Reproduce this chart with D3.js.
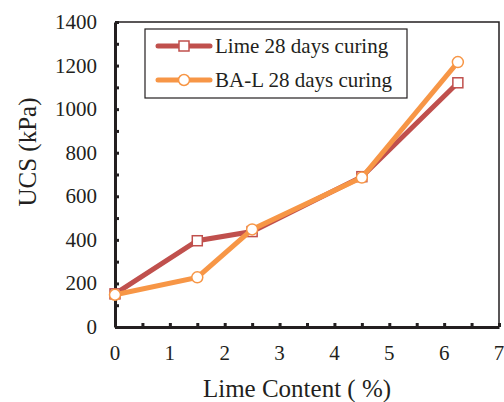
<!DOCTYPE html>
<html>
<head>
<meta charset="utf-8">
<script src="https://cdn.jsdelivr.net/npm/d3@7"></script>
<style>
  body { margin: 0; background: #fff; }
  text { font-family: "Liberation Serif", "Times New Roman", serif; fill: #231f20; }
</style>
</head>
<body>
<svg id="chart" width="504" height="402"></svg>
<script>
// data
var limeContent = [0, 1.5, 2.5, 4.5, 6.25];
var limeUCS = [152, 396, 438, 690, 1121];
var balUCS = [148, 228, 448, 686, 1216];
var seriesNames = ["Lime 28 days curing", "BA-L 28 days curing"];
var xTicks = [0, 1, 2, 3, 4, 5, 6, 7];
var yTicks = [0, 200, 400, 600, 800, 1000, 1200, 1400];

var svg = d3.select("#chart");
var padL = 115, padR = 499, padT = 22, padB = 327;

var x = d3.scaleLinear().domain([0, 7]).range([padL, padR]);
var y = d3.scaleLinear().domain([0, 1400]).range([padB, padT]);

// top & right frame
svg.append("path")
   .attr("d", `M${padL},${padT}H${padR}V${padB}`)
   .attr("fill", "none").attr("stroke", "#231f20").attr("stroke-width", 1.5);

// x axis, ticks every 0.5 pointing inward
var xAxis = d3.axisBottom(x).tickValues(d3.range(0, 7.01, 0.5)).tickSize(-4).tickSizeOuter(0).tickFormat("");
var gx = svg.append("g").attr("transform", `translate(0,${padB})`).call(xAxis);
gx.select(".domain").attr("stroke", "#231f20").attr("stroke-width", 3);
gx.selectAll(".tick line").attr("stroke", "#231f20").attr("stroke-width", 3);

// y axis, ticks every 100 pointing inward
var yAxis = d3.axisLeft(y).tickValues(d3.range(0, 1401, 100)).tickSize(-4).tickSizeOuter(0).tickFormat("");
var gy = svg.append("g").attr("transform", `translate(${padL},0)`).call(yAxis);
gy.select(".domain").attr("stroke", "#231f20").attr("stroke-width", 3);
gy.selectAll(".tick line").attr("stroke", "#231f20").attr("stroke-width", 3);

// tick labels
svg.selectAll(".xl").data(xTicks).enter().append("text")
   .attr("x", d => x(d)).attr("y", 360)
   .attr("text-anchor", "middle").attr("font-size", 21)
   .text(d => d);
svg.selectAll(".yl").data(yTicks).enter().append("text")
   .attr("x", 97).attr("y", d => y(d) + 7)
   .attr("text-anchor", "end").attr("font-size", 21)
   .text(d => d);

// axis titles
svg.append("text").attr("x", 297).attr("y", 397)
   .attr("text-anchor", "middle").attr("font-size", 25)
   .text("Lime Content ( %)");
svg.append("text").attr("transform", "translate(36,152) rotate(-90)")
   .attr("text-anchor", "middle").attr("font-size", 25)
   .text("UCS (kPa)");

var line = d3.line().x(d => x(d[0])).y(d => y(d[1]));
var limePts = limeContent.map((c, i) => [c, limeUCS[i]]);
var balPts = limeContent.map((c, i) => [c, balUCS[i]]);

var red = "#c0504d", orange = "#f79646";

svg.append("path").datum(limePts).attr("d", line)
   .attr("fill", "none").attr("stroke", red).attr("stroke-width", 5);
svg.selectAll(".sq").data(limePts).enter().append("rect")
   .attr("x", d => x(d[0]) - 5).attr("y", d => y(d[1]) - 5)
   .attr("width", 10).attr("height", 10)
   .attr("fill", "#fff").attr("stroke", red).attr("stroke-width", 1.5);

svg.append("path").datum(balPts).attr("d", line)
   .attr("fill", "none").attr("stroke", orange).attr("stroke-width", 5);
svg.selectAll(".ci").data(balPts).enter().append("circle")
   .attr("cx", d => x(d[0])).attr("cy", d => y(d[1])).attr("r", 5.5)
   .attr("fill", "#fff").attr("stroke", orange).attr("stroke-width", 1.5);

// legend
var lg = svg.append("g");
lg.append("rect").attr("x", 145).attr("y", 29).attr("width", 262).attr("height", 69)
  .attr("fill", "#fff").attr("stroke", "#231f20").attr("stroke-width", 1.2);
[red, orange].forEach(function(c, i) {
  var ly = 46 + i * 34;
  lg.append("line").attr("x1", 158).attr("x2", 210).attr("y1", ly).attr("y2", ly)
    .attr("stroke", c).attr("stroke-width", 5).attr("stroke-linecap", "round");
  if (i == 0) {
    lg.append("rect").attr("x", 179).attr("y", ly - 5).attr("width", 10).attr("height", 10)
      .attr("fill", "#fff").attr("stroke", c).attr("stroke-width", 1.5);
  } else {
    lg.append("circle").attr("cx", 184).attr("cy", ly).attr("r", 5.5)
      .attr("fill", "#fff").attr("stroke", c).attr("stroke-width", 1.5);
  }
  lg.append("text").attr("x", 215).attr("y", ly + 7).attr("font-size", 21)
    .text(seriesNames[i]);
});
</script>
</body>
</html>
